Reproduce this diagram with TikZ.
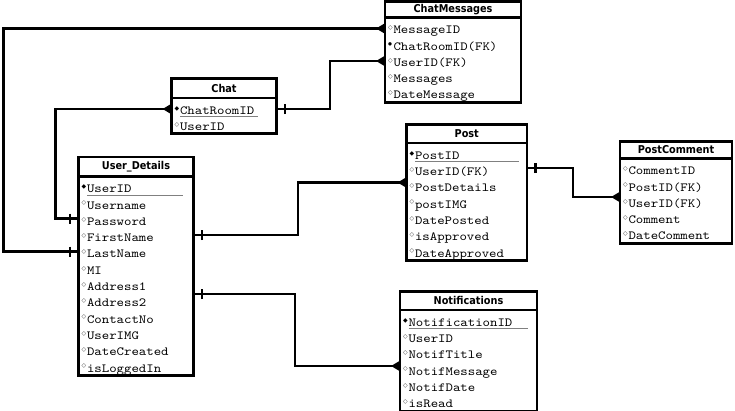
\documentclass[tikz,border=0pt]{standalone}
\usepackage{fontspec}
\newfontfamily\colfont{lmmono10-regular.otf}[FakeStretch=1.14]
\newfontfamily\titlefont{DejaVu Sans Condensed}
\newfontfamily\symfont{DejaVu Sans}
\usetikzlibrary{positioning,arrows.meta,decorations.markings}

% kleine Symbole vor den Feldern
\newcommand\fldmark{\makebox[5.5pt][l]{\raisebox{4.2pt}{\color{black!80}\symfont\fontsize{6}{6}\selectfont ◇}}}
\newcommand\pkmark{\makebox[5.5pt][l]{\raisebox{4.2pt}{\symfont\fontsize{6}{6}\selectfont ◆}}}
\newcommand\fkmark{\makebox[5.5pt][l]{\raisebox{5pt}{\symfont\fontsize{4.5}{4.5}\selectfont ●}}}
\newcommand\pkline[2]{\rlap{\color{gray}\rule[-2.6pt]{#2}{0.7pt}}#1}

\tikzset{
  tbltitle/.style={draw, line width=2.8pt, inner sep=0pt, outer sep=0pt, anchor=north west,
    font=\titlefont\bfseries\fontsize{10.8}{12}\selectfont},
  tblbody/.style={draw, line width=2.8pt, inner xsep=3pt, inner ysep=0pt, outer sep=0pt,
    below=0pt of #1, font=\colfont\fontsize{12.4}{16.3}\selectfont, text height=16.2pt},
  onebar/.style={postaction=decorate, decoration={markings,
    mark=at position 8.5pt with {\draw[-, line width=2.8pt] (0,-5pt) -- (0,5pt);}}},
  crowfoot/.style={-{Triangle[reversed, length=9pt, width=10pt]}},
  rel/.style={line width=2.8pt, onebar, crowfoot}
}

\begin{document}
\begin{tikzpicture}[x=1pt, y=-1pt]
    \useasboundingbox (0,0) rectangle (735,410);

    % Tabellen
    \node[tbltitle, minimum width=136pt, minimum height=16.2pt] (chatmsg) at (385,1.3) {ChatMessages};
    \node[tblbody=chatmsg, text width=130pt, text depth=68.5pt] (chatmsg-b) {\begin{tabular}[t]{@{}l@{}}
        \fldmark MessageID\\ \fkmark ChatRoomID(FK)\\ \fldmark UserID(FK)\\ \fldmark Messages\\ \fldmark DateMessage
      \end{tabular}};

    \node[tbltitle, minimum width=105pt, minimum height=19.5pt] (chat) at (171.5,78.5) {Chat};
    \node[tblbody=chat, text width=99pt, text depth=19.6pt] (chat-b) {\begin{tabular}[t]{@{}l@{}}
        \pkmark\pkline{ChatRoomID}{78pt}\\ \fldmark UserID
      \end{tabular}};

    \node[tbltitle, minimum width=115pt, minimum height=19.5pt] (user) at (78.5,157) {User\_Details};
    \node[tblbody=user, text width=109pt, text depth=182.6pt] (user-b) {\begin{tabular}[t]{@{}l@{}}
        \pkmark\pkline{UserID}{96pt}\\ \fldmark Username\\ \fldmark Password\\ \fldmark FirstName\\
        \fldmark LastName\\ \fldmark MI\\ \fldmark Address1\\ \fldmark Address2\\ \fldmark ContactNo\\
        \fldmark UserIMG\\ \fldmark DateCreated\\ \fldmark isLoggedIn
      \end{tabular}};

    \node[tbltitle, minimum width=120.5pt, minimum height=18.5pt] (post) at (406.5,124.5) {Post};
    \node[tblbody=post, text width=114.5pt, text depth=101.1pt] (post-b) {\begin{tabular}[t]{@{}l@{}}
        \pkmark\pkline{PostID}{104pt}\\ \fldmark UserID(FK)\\ \fldmark PostDetails\\ \fldmark postIMG\\
        \fldmark DatePosted\\ \fldmark isApproved\\ \fldmark DateApproved
      \end{tabular}};

    \node[tbltitle, minimum width=112pt, minimum height=17pt] (postcom) at (620,141.5) {PostComment};
    \node[tblbody=postcom, text width=106pt, text depth=68.5pt] (postcom-b) {\begin{tabular}[t]{@{}l@{}}
        \fldmark CommentID\\ \fldmark PostID(FK)\\ \fldmark UserID(FK)\\ \fldmark Comment\\ \fldmark DateComment
      \end{tabular}};

    \node[tbltitle, minimum width=137pt, minimum height=18.5pt] (notif) at (400,291.5) {Notifications};
    \node[tblbody=notif, text width=131pt, text depth=84.8pt] (notif-b) {\begin{tabular}[t]{@{}l@{}}
        \pkmark\pkline{NotificationID}{119pt}\\ \fldmark UserID\\ \fldmark NotifTitle\\ \fldmark NotifMessage\\
        \fldmark NotifDate\\ \fldmark isRead
      \end{tabular}};

    % Beziehungen
    \draw[rel] ([yshift=-75pt]user-b.north west) -- ++(-75,0) |- ([yshift=-11pt]chatmsg-b.north west);
    \draw[rel] ([yshift=-42pt]user-b.north west) -- ++(-23,0) |- ([yshift=-11pt]chat-b.north west);
    \draw[rel] ([yshift=-11pt]chat-b.north east) -- ++(53.5,0) |- ([yshift=-43.5pt]chatmsg-b.north west);
    \draw[rel] ([yshift=-58.5pt]user-b.north east) -- ++(104.5,0) |- ([yshift=-39.5pt]post-b.north west);
    \draw[rel] ([yshift=-117.5pt]user-b.north east) -- ++(101.5,0) |- ([yshift=-56pt]notif-b.north west);
    \draw[rel] ([yshift=-25pt]post-b.north east) -- ++(46,0) |- ([yshift=-38.5pt]postcom-b.north west);
\end{tikzpicture}
\end{document}
